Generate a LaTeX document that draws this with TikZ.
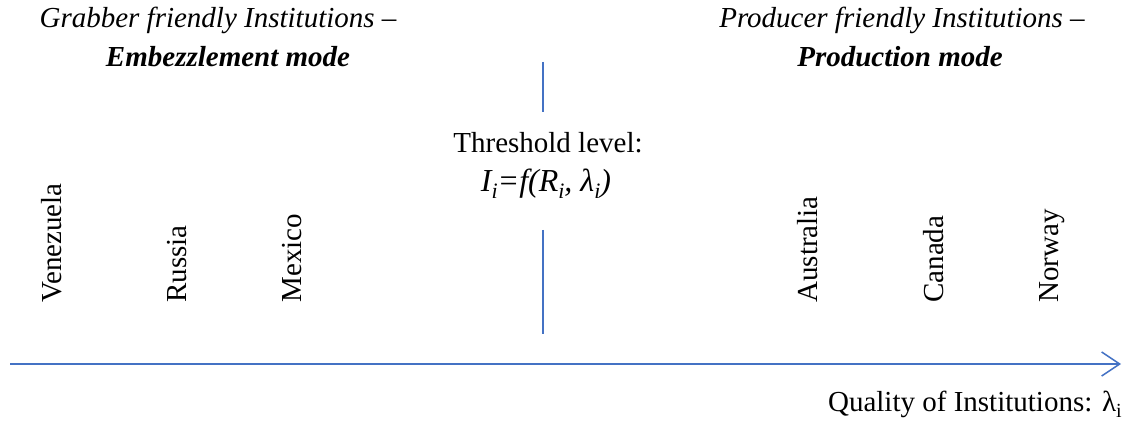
\documentclass[tikz,border=0pt]{standalone}
\usepackage{fontspec}
\setmainfont{Liberation Serif}
\usetikzlibrary{arrows.meta}
\definecolor{axisblue}{RGB}{68,114,196}
\newcommand{\mysub}[2][10]{\raisebox{-0.22em}{\fontsize{#1}{#1}\selectfont #2}}
\begin{document}
\begin{tikzpicture}[x=0.5pt,y=-0.5pt,
  txt/.style={inner sep=0pt,font=\fontsize{14.5}{17}\selectfont},
  country/.style={txt,rotate=90,anchor=west},
  bluel/.style={draw=axisblue,line width=0.75pt}]
\useasboundingbox (0,0) rectangle (1130,421);
\node[txt] (gl1) at (218,20) {\itshape Grabber friendly Institutions –};
\node[txt] (gl2) at (228,57) {\bfseries\itshape Embezzlement mode};
\node[txt] (pl1) at (902,20) {\itshape Producer friendly Institutions –};
\node[txt] (pl2) at (900,57) {\bfseries\itshape Production mode};
\coordinate (t1) at (543,62);
\coordinate (t2) at (543,112);
\coordinate (b1) at (543,230);
\coordinate (b2) at (543,334);
\draw[bluel] (t1) -- (t2);
\draw[bluel] (b1) -- (b2);
\node[txt] (thr) at (548,143) {Threshold level:};
\node[txt,font=\fontsize{16}{19}\selectfont] (fml) at (546,184) {\itshape I\mysub[11]{i}=f(R\mysub[11]{i}, λ\mysub[11]{i})};
\node[country] (ve) at (52,303) {Venezuela};
\node[country] (ru) at (177,303) {Russia};
\node[country] (me) at (292,303) {Mexico};
\node[country] (au) at (808,303) {Australia};
\node[country] (ca) at (934,303) {Canada};
\node[country] (no) at (1052,303) {Norway};
\coordinate (a1) at (10,364);
\coordinate (a2) at (1121,364);
\draw[bluel,-{Straight Barb[length=9pt,width=12pt,line width=0.75pt]}] (a1) -- (a2);
\node[txt,anchor=east] (q) at (1122,404) {Quality of Institutions: λ\mysub{i}};
\end{tikzpicture}
\end{document}
